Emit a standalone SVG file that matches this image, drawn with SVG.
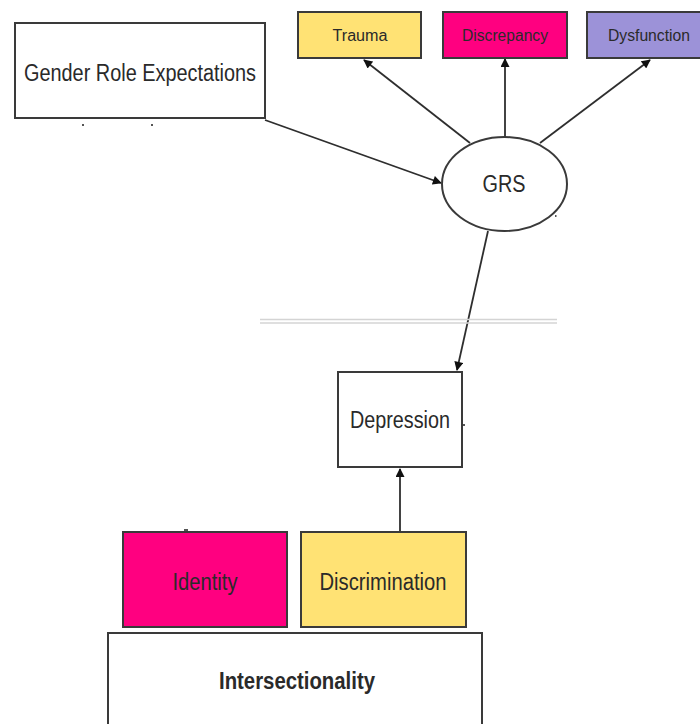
<svg xmlns="http://www.w3.org/2000/svg" width="700" height="724" viewBox="0 0 700 724">
  <style>
    .box { stroke: #3a3a3a; stroke-width: 2; }
    .lbl { font-family: "Liberation Sans", Arial, sans-serif; fill: #2a2a2a; text-anchor: middle; }
    .small { font-size: 16px; }
    .mid { font-size: 23px; }
    .bold { font-weight: bold; }
    .edge { stroke: #2e2e2e; stroke-width: 1.8; fill: none; marker-end: url(#arrow); }
    .rule { stroke: #d4d4d4; stroke-width: 1.5; }
    .speck { fill: #555; }
  </style>
  <defs>
    <marker id="arrow" viewBox="0 0 10 10" refX="9" refY="5" markerWidth="10" markerHeight="9" markerUnits="userSpaceOnUse" orient="auto">
      <path d="M0,0 L10,5 L0,10 z" fill="#111"/>
    </marker>
  </defs>

  <rect width="700" height="724" fill="#ffffff"/>

  <!-- connectors -->
  <g id="connectors">
    <line class="edge" x1="265" y1="120" x2="441" y2="183"/>
    <line class="edge" x1="470" y1="143" x2="364" y2="60"/>
    <line class="edge" x1="505" y1="137" x2="505" y2="59"/>
    <line class="edge" x1="540" y1="143" x2="650" y2="60"/>
    <line class="edge" x1="488" y1="231" x2="457" y2="370"/>
    <line class="edge" x1="400" y1="531" x2="400" y2="469"/>
  </g>

  <!-- separator rule -->
  <g id="separator">
    <line class="rule" x1="260" y1="319.5" x2="557" y2="319.5"/>
    <line class="rule" x1="260" y1="323" x2="557" y2="323"/>
  </g>

  <g id="gender-role-expectations">
    <rect class="box" x="15" y="23" width="250" height="95" fill="#ffffff"/>
    <text class="lbl mid" x="140" y="81" textLength="232" lengthAdjust="spacingAndGlyphs">Gender Role Expectations</text>
    <rect class="speck" x="82" y="124" width="2" height="2"/>
    <rect class="speck" x="151" y="124" width="2" height="2"/>
  </g>

  <g id="trauma">
    <rect class="box" x="298" y="12" width="123" height="46" fill="#ffe274"/>
    <text class="lbl small" x="360" y="41" textLength="55" lengthAdjust="spacingAndGlyphs">Trauma</text>
  </g>

  <g id="discrepancy">
    <rect class="box" x="443" y="12" width="124" height="46" fill="#ff0080"/>
    <text class="lbl small" x="505" y="41" textLength="86" lengthAdjust="spacingAndGlyphs">Discrepancy</text>
  </g>

  <g id="dysfunction">
    <rect class="box" x="587" y="12" width="125" height="46" fill="#9c92d8"/>
    <text class="lbl small" x="649" y="41" textLength="82" lengthAdjust="spacingAndGlyphs">Dysfunction</text>
  </g>

  <g id="grs">
    <ellipse class="box" cx="504.5" cy="184" rx="62.5" ry="47" fill="#ffffff"/>
    <text class="lbl mid" x="504" y="192" textLength="43" lengthAdjust="spacingAndGlyphs">GRS</text>
    <rect class="speck" x="555" y="215" width="1.5" height="2"/>
  </g>

  <g id="depression">
    <rect class="box" x="338" y="372" width="124" height="95" fill="#ffffff"/>
    <text class="lbl mid" x="400" y="428" textLength="100" lengthAdjust="spacingAndGlyphs">Depression</text>
    <rect class="speck" x="463" y="424" width="2" height="2"/>
  </g>

  <g id="identity">
    <rect class="box" x="123" y="532" width="164" height="95" fill="#ff0080"/>
    <text class="lbl mid" x="205" y="590" textLength="65" lengthAdjust="spacingAndGlyphs">Identity</text>
    <rect class="speck" x="184" y="529" width="4" height="2"/>
  </g>

  <g id="discrimination">
    <rect class="box" x="301" y="532" width="165" height="95" fill="#ffe274"/>
    <text class="lbl mid" x="383" y="590" textLength="127" lengthAdjust="spacingAndGlyphs">Discrimination</text>
  </g>

  <g id="intersectionality">
    <rect class="box" x="108" y="633" width="374" height="100" fill="#ffffff"/>
    <text class="lbl mid bold" x="297" y="689" textLength="156" lengthAdjust="spacingAndGlyphs">Intersectionality</text>
  </g>
</svg>
